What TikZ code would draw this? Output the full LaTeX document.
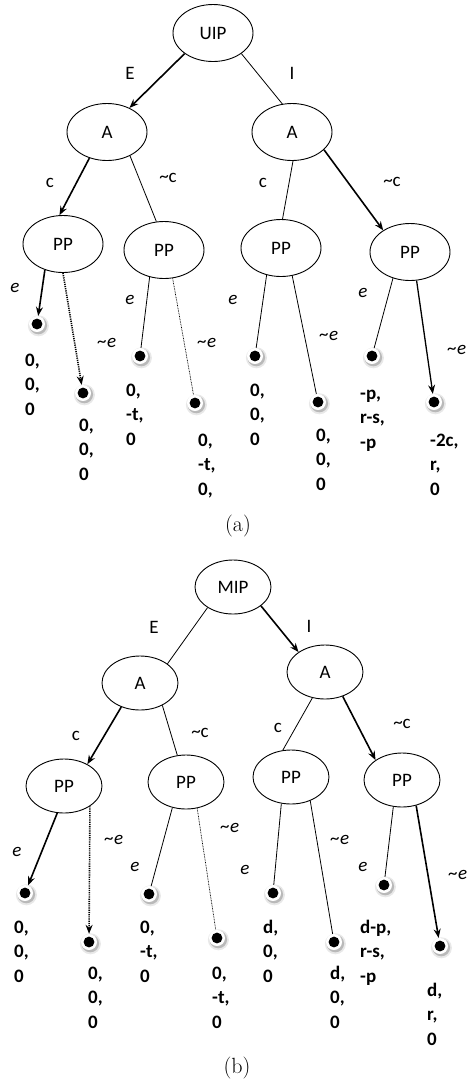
\documentclass[tikz,border=0pt]{standalone}
\usepackage{fontspec}
\newfontfamily\calib{Carlito}
\usetikzlibrary{shapes.geometric,arrows.meta}
\tikzset{
 st/.style={ellipse,draw,line width=0.9pt,minimum width=80pt,minimum height=57pt,inner sep=0pt,font=\calib\fontsize{19}{21}\selectfont},
 stb/.style={st,minimum width=76pt,minimum height=54pt},
 thinedge/.style={line width=0.8pt},
 thickedge/.style={line width=1.6pt,-{Stealth[length=9pt,width=7pt,inset=3pt]}},
 dotthick/.style={line width=1.6pt,dash pattern=on 1.2pt off 1pt,-{Stealth[length=9pt,width=7pt,inset=3pt]}},
 dotthin/.style={line width=0.7pt,dash pattern=on 0.8pt off 0.8pt},
 lbl/.style={font=\calib\fontsize{19}{21}\selectfont,inner sep=0pt},
 elbl/.style={font=\calib\itshape\fontsize{19}{21}\selectfont,inner sep=0pt},
 pay/.style={font=\calib\bfseries\fontsize{19}{24.5}\selectfont,anchor=base west,inner sep=0pt},
 halo/.style={circle,fill=white,minimum size=16pt,inner sep=0pt},
 capt/.style={font=\fontsize{22}{24}\selectfont,inner sep=0pt},
}
\newcommand\lf[3]{%
 \fill[gray!18] (#2+1.4,#3+1.8) circle (10.5pt);
 \fill[gray!55] (#2+1.3,#3+1.5) circle (8.8pt);
 \node[halo] (#1) at (#2,#3) {};
 \fill (#1) circle (5.4pt);
}
\newcommand\pv[3]{\begin{tabular}[t]{@{}l@{}}#1\\#2\\#3\end{tabular}}
\begin{document}
\begin{tikzpicture}[x=1pt,y=-1pt]
\useasboundingbox (0,0) rectangle (469,1080);
% ---------------- (a)
\node[st] (uip) at (213,33) {UIP};
\node[st] (aL) at (107,132) {A};
\node[st] (aR) at (292,132) {A};
\node[st] (p1) at (63,244) {PP};
\node[st] (p2) at (164,250) {PP};
\node[st] (p3) at (281,248) {PP};
\node[st] (p4) at (410,252) {PP};
\node[lbl] (tE) at (130,73) {E};
\node[lbl] (tI) at (292,73) {I};
\node[lbl] (tc1) at (50,183) {c};
\node[lbl] (tnc1) at (168,178) {\textasciitilde c};
\node[lbl] (tc2) at (263,183) {c};
\node[lbl] (tnc2) at (392,182) {\textasciitilde c};
\node[elbl] (te1) at (15,288) {e};
\node[elbl] (tne1) at (107,343) {\textasciitilde e};
\node[elbl] (te2) at (130,300) {e};
\node[elbl] (tne2) at (207,343) {\textasciitilde e};
\node[elbl] (te3) at (233,300) {e};
\node[elbl] (tne3) at (329,336) {\textasciitilde e};
\node[elbl] (te4) at (363,293) {e};
\node[elbl] (tne4) at (457,350) {\textasciitilde e};
\lf{l1}{37}{324}
\lf{l2}{83}{393}
\lf{l3}{140}{356}
\lf{l4}{195}{403}
\lf{l5}{255}{356}
\lf{l6}{318}{402}
\lf{l7}{372}{356}
\lf{l8}{434}{402}
\draw[thickedge] (uip.216) -- (aL.47);
\draw[thinedge] (uip.324) -- (aR.109);
\draw[thickedge] (aL.236) -- (p1.97);
\draw[thinedge] (aL.314) -- (p2.105);
\draw[thinedge] (aR.272) -- (p3.87);
\draw[thickedge] (aR.331) -- (p4.141);
\draw[thickedge] (p1.235) -- (l1);
\draw[dotthick] (p1.270) -- (l2);
\draw[thinedge] (p2.242) -- (l3);
\draw[dotthin] (p2.287) -- (l4);
\draw[thinedge] (p3.242) -- (l5);
\draw[thinedge] (p3.292) -- (l6);
\draw[thinedge] (p4.237) -- (l7);
\draw[thickedge,line width=1.3pt] (p4.283) -- (l8);
\node[pay] (pa1) at (25,366) {\pv{0,}{0,}{0}};
\node[pay] (pa2) at (79,431) {\pv{0,}{0,}{0}};
\node[pay] (pa3) at (126,396) {\pv{0,}{-t,}{0}};
\node[pay] (pa4) at (198,446) {\pv{0,}{-t,}{0,}};
\node[pay] (pa5) at (250,396) {\pv{0,}{0,}{0}};
\node[pay] (pa6) at (316,441) {\pv{0,}{0,}{0}};
\node[pay] (pa7) at (360,399) {\pv{-p,}{r-s,}{-p}};
\node[pay] (pa8) at (430,446) {\pv{-2c,}{r,}{0}};
\node[capt] (capa) at (238,526) {(a)};
% ---------------- (b)
\node[stb] (mip) at (233,587) {MIP};
\node[stb] (bL) at (140,683) {A};
\node[stb] (bR) at (325,672) {A};
\node[stb] (q1) at (64,786) {PP};
\node[stb] (q2) at (186,782) {PP};
\node[stb] (q3) at (291,777) {PP};
\node[stb] (q4) at (402,780) {PP};
\node[lbl] (uE) at (154,627) {E};
\node[lbl] (uI) at (309,626) {I};
\node[lbl] (uc1) at (76,736) {c};
\node[lbl] (unc1) at (200,733) {\textasciitilde c};
\node[lbl] (uc2) at (278,728) {c};
\node[lbl] (unc2) at (402,724) {\textasciitilde c};
\node[elbl] (ue1) at (17,852) {e};
\node[elbl] (une1) at (114,840) {\textasciitilde e};
\node[elbl] (ue2) at (135,867) {e};
\node[elbl] (une2) at (230,828) {\textasciitilde e};
\node[elbl] (ue3) at (245,870) {e};
\node[elbl] (une3) at (340,840) {\textasciitilde e};
\node[elbl] (ue4) at (363,867) {e};
\node[elbl] (une4) at (458,875) {\textasciitilde e};
\lf{m1}{25}{893}
\lf{m2}{89}{942}
\lf{m3}{149}{894}
\lf{m4}{217}{938}
\lf{m5}{273}{893}
\lf{m6}{334}{942}
\lf{m7}{384}{885}
\lf{m8}{440}{946}
\draw[thinedge] (mip.219) -- (bL.35);
\draw[thickedge] (mip.326) -- (bR.143);
\draw[thickedge] (bL.232) -- (q1.43);
\draw[thinedge] (bL.315) -- (q2.108);
\draw[thinedge] (bR.244) -- (q3.107);
\draw[thickedge] (bR.306) -- (q4.143);
\draw[thickedge] (q1.256) -- (m1);
\draw[dotthick] (q1.322) -- (m2);
\draw[thinedge] (q2.242) -- (m3);
\draw[dotthin] (q2.293) -- (m4);
\draw[thinedge] (q3.250) -- (m5);
\draw[thinedge] (q3.309) -- (m6);
\draw[thinedge] (q4.252) -- (m7);
\draw[thickedge] (q4.299) -- (m8);
\node[pay] (pb1) at (14,933) {\pv{0,}{0,}{0}};
\node[pay] (pb2) at (88,979) {\pv{0,}{0,}{0}};
\node[pay] (pb3) at (140,933) {\pv{0,}{-t,}{0}};
\node[pay] (pb4) at (212,979) {\pv{0,}{-t,}{0}};
\node[pay] (pb5) at (263,933) {\pv{d,}{0,}{0}};
\node[pay] (pb6) at (330,979) {\pv{d,}{0,}{0}};
\node[pay] (pb7) at (360,933) {\pv{d-p,}{r-s,}{-p}};
\node[pay] (pb8) at (427,996) {\pv{d,}{r,}{0}};
\node[capt] (capb) at (237,1068) {(b)};
\end{tikzpicture}
\end{document}
